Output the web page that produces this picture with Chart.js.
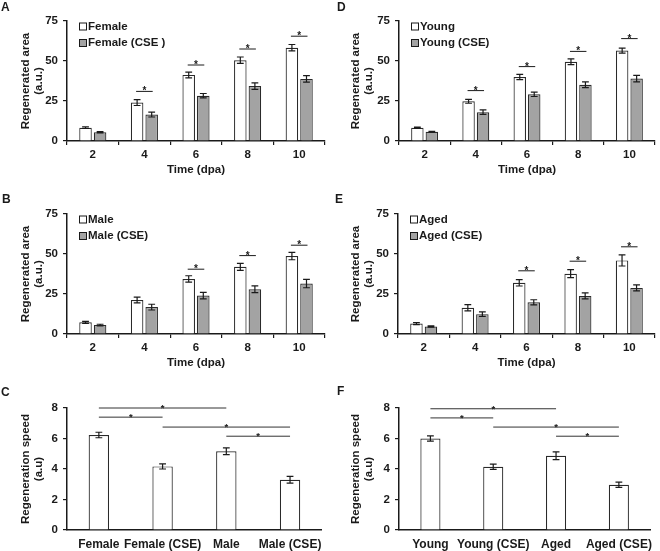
<!DOCTYPE html>
<html>
<head>
<meta charset="utf-8">
<script src="https://cdn.jsdelivr.net/npm/chart.js@4.4.1/dist/chart.umd.min.js"></script>
<style>
  body { margin: 0; background: #fff; }
  #fig { position: relative; width: 660px; height: 551px; overflow: hidden; }
  #fig canvas { position: absolute; }
  .tag { position: absolute; font: bold 12px 'Liberation Sans', Arial, sans-serif; color: #1a1a1a; line-height: 12px; }
</style>
</head>
<body>
<div id="fig">
  <canvas id="chartA" width="330" height="185" style="left:0;top:0"></canvas>
  <canvas id="chartD" width="330" height="185" style="left:330px;top:0"></canvas>
  <canvas id="chartB" width="330" height="185" style="left:0;top:193px"></canvas>
  <canvas id="chartE" width="330" height="185" style="left:330px;top:193px"></canvas>
  <canvas id="chartC" width="330" height="164" style="left:0;top:387px"></canvas>
  <canvas id="chartF" width="330" height="164" style="left:330px;top:387px"></canvas>
  <div class="tag" style="left:1px;top:1px">A</div>
  <div class="tag" style="left:337px;top:1px">D</div>
  <div class="tag" style="left:2px;top:193px">B</div>
  <div class="tag" style="left:335px;top:193px">E</div>
  <div class="tag" style="left:1px;top:386px">C</div>
  <div class="tag" style="left:337px;top:385px">F</div>
</div>
<script>
// ---- data ----
const timeLabels = ['2', '4', '6', '8', '10'];

// A: female
const femaleArea = [8.3, 24, 41.3, 50.5, 58.3];
const femaleAreaErr = [0.5, 1.8, 1.8, 2, 2];
const femaleCseArea = [5.5, 16.5, 28.3, 34.3, 38.8];
const femaleCseAreaErr = [0.4, 1.5, 1.4, 2, 2];
const femaleSig = [null, 31, 47.5, 57.5, 65.5];

// B: male
const maleArea = [7.3, 21.2, 34.4, 42, 48.7];
const maleAreaErr = [0.6, 1.8, 2, 2.2, 2.3];
const maleCseArea = [5.6, 16.8, 24, 28, 31.5];
const maleCseAreaErr = [0.5, 1.8, 2, 2.1, 2.6];
const maleSig = [null, null, 40.5, 49, 55.5];

// D: young
const youngArea = [8.3, 24.8, 40, 49.5, 56.5];
const youngAreaErr = [0.4, 1.2, 1.6, 1.8, 1.6];
const youngCseArea = [5.8, 18, 29.2, 35.2, 39];
const youngCseAreaErr = [0.3, 1.4, 1.4, 1.8, 2];
const youngSig = [null, 31.5, 46.5, 56, 64];

// E: aged
const agedArea = [6.5, 16.4, 32, 37.7, 46];
const agedAreaErr = [0.6, 1.9, 2, 2.5, 3.5];
const agedCseArea = [4.7, 12.4, 19.8, 23.8, 28.8];
const agedCseAreaErr = [0.4, 1.4, 1.6, 1.9, 1.9];
const agedSig = [null, null, 39.5, 45.5, 54.5];

// C: speed by sex
const sexLabels = ['Female', 'Female (CSE)', 'Male', 'Male (CSE)'];
const sexSpeed = [6.23, 4.17, 5.16, 3.3];
const sexSpeedErr = [0.18, 0.17, 0.22, 0.22];
const sexSigFrom = [0, 0, 1, 2];
const sexSigTo = [2, 1, 3, 3];
const sexSigAt = [8, 7.4, 6.75, 6.15];

// F: speed by age
const ageLabels = ['Young', 'Young (CSE)', 'Aged', 'Aged (CSE)'];
const ageSpeed = [6.0, 4.15, 4.87, 2.97];
const ageSpeedErr = [0.17, 0.17, 0.25, 0.17];
const ageSigFrom = [0, 0, 1, 2];
const ageSigTo = [2, 1, 3, 3];
const ageSigAt = [7.95, 7.35, 6.75, 6.15];

const areaTicks = { min: 0, max: 75, step: 25 };
const speedTicks = { min: 0, max: 8, step: 2 };

// ---- styling ----
const FAMILY = "'Liberation Sans', Arial, sans-serif";
const INK = '#1a1a1a';
const GREY = '#a3a3a3';
const boldFont = { family: FAMILY, size: 11.5, weight: 'bold', lineHeight: 1.15 };
const wideFont = { family: FAMILY, size: 12, weight: 'bold', lineHeight: 1.15 };

// error bars drawn from dataset.errors through the y scale
const errorBarPlugin = {
  id: 'errorBars',
  afterDatasetsDraw(chart) {
    const { ctx } = chart;
    const y = chart.scales.y;
    ctx.save();
    ctx.strokeStyle = INK;
    ctx.lineWidth = 1.2;
    chart.data.datasets.forEach((ds, i) => {
      chart.getDatasetMeta(i).data.forEach((bar, j) => {
        const hi = y.getPixelForValue(ds.data[j] + ds.errors[j]);
        const lo = y.getPixelForValue(ds.data[j] - ds.errors[j]);
        ctx.beginPath();
        ctx.moveTo(bar.x, hi); ctx.lineTo(bar.x, lo);
        ctx.moveTo(bar.x - 3.4, hi); ctx.lineTo(bar.x + 3.4, hi);
        ctx.moveTo(bar.x - 3.4, lo); ctx.lineTo(bar.x + 3.4, lo);
        ctx.stroke();
      });
    });
    ctx.restore();
  }
};

// significance lines with an asterisk on top
const sigPlugin = {
  id: 'sigMarks',
  afterDatasetsDraw(chart, args, opts) {
    const { ctx } = chart;
    const { x, y } = chart.scales;
    const lines = [];
    if (opts.within) {
      const m0 = chart.getDatasetMeta(0).data;
      const m1 = chart.getDatasetMeta(1).data;
      opts.within.forEach((v, i) => {
        if (v != null) lines.push([m0[i].x - 1, m1[i].x + 1, y.getPixelForValue(v)]);
      });
    }
    if (opts.from) {
      opts.from.forEach((f, i) => {
        lines.push([x.getPixelForValue(f), x.getPixelForValue(opts.to[i]), y.getPixelForValue(opts.at[i])]);
      });
    }
    ctx.save();
    ctx.strokeStyle = opts.color || INK;
    ctx.fillStyle = INK;
    ctx.lineWidth = 1;
    ctx.font = 'bold ' + (opts.starSize || 10) + 'px ' + FAMILY;
    ctx.textAlign = 'center';
    ctx.textBaseline = 'alphabetic';
    lines.forEach(([x0, x1, yy]) => {
      ctx.beginPath();
      ctx.moveTo(x0, yy); ctx.lineTo(x1, yy);
      ctx.stroke();
      ctx.fillText('*', (x0 + x1) / 2, yy + 3);
    });
    ctx.restore();
  }
};

// small square-box legend inside the top-left of the plot
const boxLegendPlugin = {
  id: 'boxLegend',
  afterDraw(chart, args, opts) {
    if (!opts.show) return;
    const { ctx, chartArea } = chart;
    ctx.save();
    ctx.font = 'bold 11.5px ' + FAMILY;
    ctx.textBaseline = 'middle';
    chart.data.datasets.forEach((ds, i) => {
      const bx = chartArea.left + 12.5;
      const cy = chartArea.top + 5.5 + i * 16.5;
      ctx.fillStyle = ds.backgroundColor;
      ctx.fillRect(bx, cy - 3.5, 7, 7);
      ctx.strokeStyle = INK;
      ctx.lineWidth = 1;
      ctx.strokeRect(bx, cy - 3.5, 7, 7);
      ctx.fillStyle = INK;
      ctx.fillText(ds.label, bx + 8.5, cy);
    });
    ctx.restore();
  }
};

function barSet(label, data, errors, fill, bp, cp) {
  return {
    label, data, errors,
    backgroundColor: fill,
    borderColor: '#2a2a2a',
    borderWidth: 1.2,
    borderSkipped: 'bottom',
    barPercentage: bp,
    categoryPercentage: cp
  };
}

function makeChart(id, o) {
  return new Chart(document.getElementById(id), {
    type: 'bar',
    data: { labels: o.labels, datasets: o.datasets },
    plugins: [errorBarPlugin, sigPlugin, boxLegendPlugin],
    options: {
      responsive: false,
      animation: false,
      devicePixelRatio: 1,
      layout: { padding: { top: 21, right: o.padRight, bottom: o.padBottom, left: 0 } },
      plugins: {
        legend: { display: false },
        tooltip: { enabled: false },
        sigMarks: o.sig,
        boxLegend: { show: o.legend }
      },
      scales: {
        x: {
          grid: o.xTicks
            ? { offset: true, drawOnChartArea: false, drawTicks: true, tickLength: 4, color: INK, lineWidth: 1.2 }
            : { display: false, drawTicks: false },
          border: { display: true, color: INK, width: 1.5 },
          ticks: { color: INK, font: o.xFont, padding: o.xPad, maxRotation: 0, autoSkip: false },
          title: o.xTitle
            ? { display: true, text: o.xTitle, color: INK, font: boldFont, padding: { top: 0, bottom: 5 } }
            : { display: false },
          afterFit: s => { s.height = o.xHeight; }
        },
        y: {
          min: o.yRange.min,
          max: o.yRange.max,
          grid: { drawOnChartArea: false, drawTicks: true, tickLength: 4, color: INK, lineWidth: 1.2 },
          border: { display: true, color: INK, width: 1.5 },
          ticks: { stepSize: o.yRange.step, color: INK, font: boldFont, padding: 5 },
          title: { display: true, text: o.yTitle, color: INK, font: boldFont, padding: { top: 19, bottom: 0 } },
          afterFit: s => { s.width = o.yWidth; }
        }
      }
    }
  });
}

function timeChart(id, names, a, aErr, b, bErr, sig, yWidth) {
  return makeChart(id, {
    labels: timeLabels,
    datasets: [
      barSet(names[0], a, aErr, '#ffffff', 0.86, 0.565),
      barSet(names[1], b, bErr, GREY, 0.86, 0.565)
    ],
    sig: { within: sig, starSize: 10 },
    legend: true,
    xTicks: true,
    xFont: boldFont,
    xPad: 3,
    xHeight: 40,
    xTitle: 'Time (dpa)',
    yTitle: ['Regenerated area', '(a.u.)'],
    yRange: areaTicks,
    yWidth,
    padRight: 5,
    padBottom: 4
  });
}

function speedChart(id, labels, vals, errs, from, to, at, yWidth, padRight) {
  return makeChart(id, {
    labels,
    datasets: [barSet('speed', vals, errs, '#ffffff', 0.32, 1)],
    sig: { from, to, at, starSize: 9.5, color: '#333' },
    legend: false,
    xTicks: false,
    xFont: wideFont,
    xPad: 8,
    xHeight: 21,
    xTitle: null,
    yTitle: ['Regeneration speed', '(a.u)'],
    yRange: speedTicks,
    yWidth,
    padRight,
    padBottom: 0
  });
}

document.addEventListener('DOMContentLoaded', () => {
  timeChart('chartA', ['Female', 'Female (CSE )'], femaleArea, femaleAreaErr, femaleCseArea, femaleCseAreaErr, femaleSig, 67);
  timeChart('chartB', ['Male', 'Male (CSE)'], maleArea, maleAreaErr, maleCseArea, maleCseAreaErr, maleSig, 67);
  timeChart('chartD', ['Young', 'Young (CSE)'], youngArea, youngAreaErr, youngCseArea, youngCseAreaErr, youngSig, 69);
  timeChart('chartE', ['Aged', 'Aged (CSE)'], agedArea, agedAreaErr, agedCseArea, agedCseAreaErr, agedSig, 68);
  speedChart('chartC', sexLabels, sexSpeed, sexSpeedErr, sexSigFrom, sexSigTo, sexSigAt, 67, 5);
  speedChart('chartF', ageLabels, ageSpeed, ageSpeedErr, ageSigFrom, ageSigTo, ageSigAt, 69, 1);
});
</script>
</body>
</html>
